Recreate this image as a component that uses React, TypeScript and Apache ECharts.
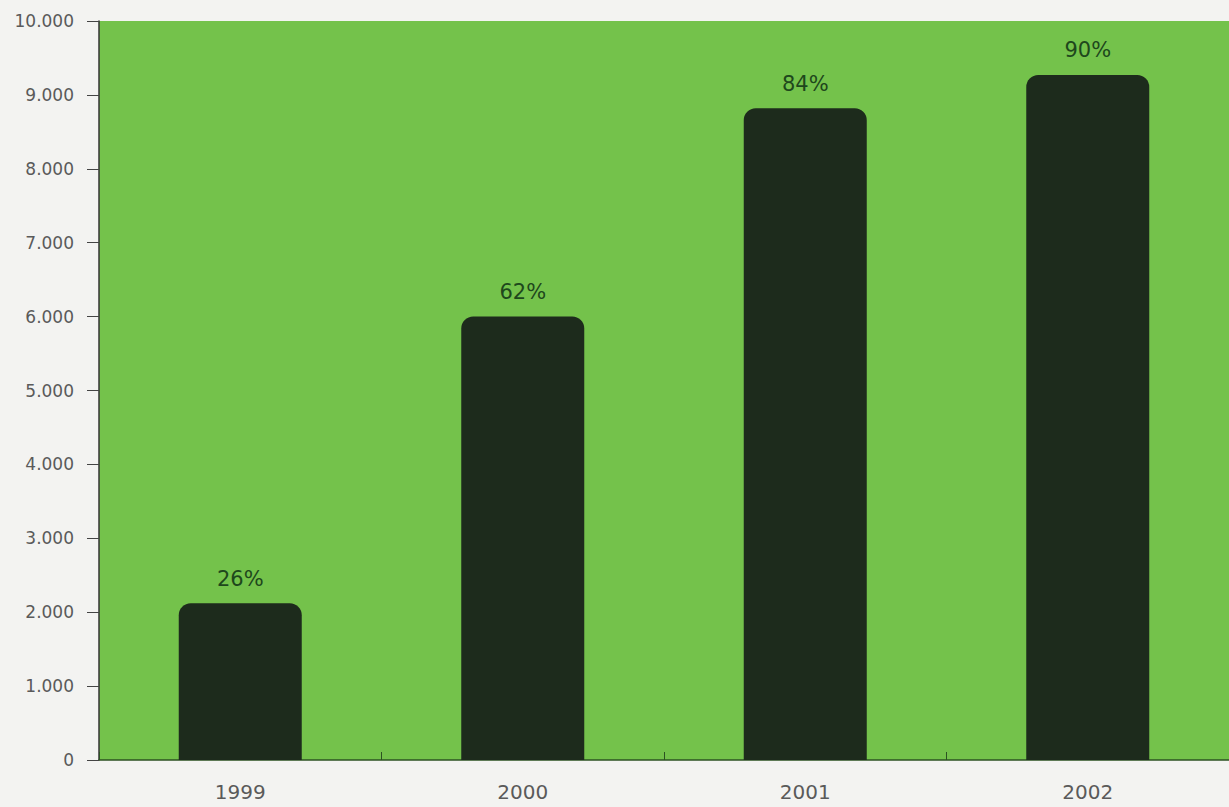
import React, { useEffect, useRef } from "react";
import * as echarts from "echarts";

const years = ["1999", "2000", "2001", "2002"];
const values = [2120, 6000, 8820, 9270];
const percentLabels = ["26%", "62%", "84%", "90%"];
const yTicks = { min: 0, max: 10000, interval: 1000 };

function fmt(v: number): string {
  return String(v).replace(/\B(?=(\d{3})+(?!\d))/g, ".");
}

export default function App() {
  const ref = useRef<HTMLDivElement>(null);
  useEffect(() => {
    if (!ref.current) return;
    const chart = echarts.init(ref.current, null, { renderer: "svg" });
    chart.setOption({
      animation: false,
      backgroundColor: "#f3f3f1",
      grid: {
        left: 99,
        top: 21,
        bottom: 47,
        width: 1135,
        show: true,
        backgroundColor: "#74c24b",
        borderWidth: 0,
      },
      xAxis: {
        type: "category",
        data: years,
        axisLine: { lineStyle: { color: "#2c5222", width: 1.5 } },
        axisTick: { show: true, inside: true, length: 8, lineStyle: { color: "#2c5222" } },
        axisLabel: {
          margin: 22,
          fontSize: 20,
          color: "#5a5a5a",
          fontFamily: "DejaVu Sans",
        },
      },
      yAxis: {
        type: "value",
        min: yTicks.min,
        max: yTicks.max,
        interval: yTicks.interval,
        splitLine: { show: false },
        axisLine: { show: true, lineStyle: { color: "#333", width: 1.5 } },
        axisTick: { show: true, length: 12, lineStyle: { color: "#444" } },
        axisLabel: {
          margin: 25,
          fontSize: 17,
          color: "#5a5a5a",
          fontFamily: "DejaVu Sans",
          formatter: (v: number) => fmt(v),
        },
      },
      series: [
        {
          type: "bar",
          data: values,
          barWidth: 123,
          itemStyle: { color: "#1d2b1c", borderRadius: [12, 12, 0, 0] },
          label: {
            show: true,
            position: "top",
            distance: 14,
            fontSize: 21,
            color: "#1e471c",
            fontFamily: "DejaVu Sans",
            formatter: (p: any) => percentLabels[p.dataIndex],
          },
        },
      ],
    });
    return () => chart.dispose();
  }, []);
  return (
    <div
      ref={ref}
      style={{ position: "fixed", left: 0, top: 0, width: 1229, height: 807 }}
    />
  );
}
